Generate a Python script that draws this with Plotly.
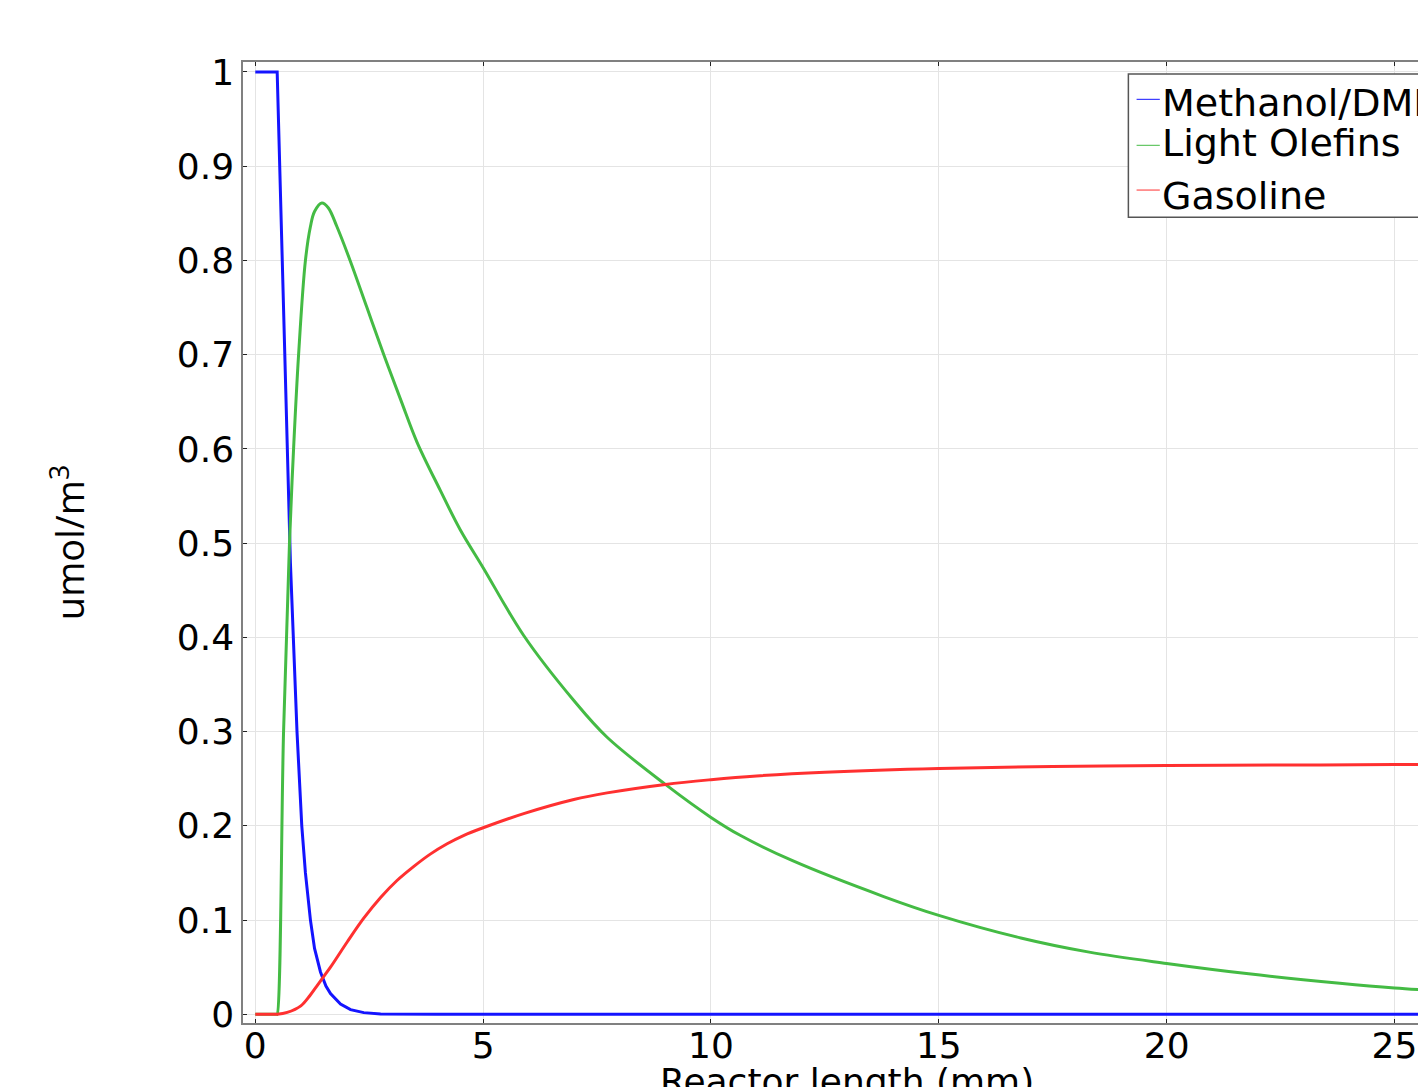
import plotly.graph_objects as go

# ---------------- data ----------------
series_names = ["Methanol/DME", "Light Olefins", "Gasoline"]
series_colors = ["#1414ff", "#44bb44", "#ff3030"]

length_methanol = [0, 0.47, 0.48, 0.77, 0.84, 0.915, 1.02, 1.10, 1.21, 1.30, 1.43, 1.55, 1.65,
                   1.87, 2.09, 2.38, 2.75, 3.2, 4.0, 26.0]
methanol = [1.0, 1.0, 1.0, 0.48, 0.40, 0.30, 0.20, 0.15, 0.10, 0.07, 0.045, 0.030, 0.022,
            0.011, 0.005, 0.0018, 0.0004, 0.0, 0.0, 0.0]

length_olefins = [0, 0.47, 0.48, 0.62, 0.75, 0.84, 0.95, 1.10, 1.21, 1.30, 1.46, 1.60, 1.79,
                  2.08, 2.45, 2.82, 3.20, 3.55, 4.06, 4.50, 5.0, 5.89, 6.99, 7.72, 9.0,
                  10.0, 10.64, 11.79, 13.79, 15.0, 16.8, 18.3, 20.0, 21.8, 23.8, 25.0, 26.0]
olefins = [0.0, 0.0, 0.0, 0.30, 0.50, 0.60, 0.70, 0.80, 0.836, 0.852, 0.861, 0.856, 0.836,
           0.800, 0.750, 0.700, 0.651, 0.607, 0.556, 0.514, 0.474, 0.402, 0.333, 0.294, 0.244,
           0.209, 0.190, 0.163, 0.125, 0.105, 0.081, 0.066, 0.054, 0.043, 0.033, 0.028, 0.025]

length_gasoline = [0, 0.47, 0.48, 0.70, 1.00, 1.20, 1.35, 1.50, 1.65, 2.02, 2.38, 2.75, 3.11,
                   3.48, 3.84, 4.21, 4.58, 5.0, 5.89, 6.99, 7.72, 9.0, 10.0, 11.0, 12.5,
                   15.0, 17.5, 20.0, 22.5, 25.0, 26.0]
gasoline = [0.0, 0.0, 0.0, 0.002, 0.009, 0.020, 0.030, 0.040, 0.050, 0.077, 0.102, 0.124, 0.142,
            0.157, 0.170, 0.181, 0.190, 0.198, 0.213, 0.228, 0.235, 0.244, 0.249, 0.253, 0.257,
            0.261, 0.263, 0.264, 0.2645, 0.265, 0.265]

x_ticks = [0, 5, 10, 15, 20, 25]
y_ticks = [0, 0.1, 0.2, 0.3, 0.4, 0.5, 0.6, 0.7, 0.8, 0.9, 1.0]
y_tick_labels = ["0", "0.1", "0.2", "0.3", "0.4", "0.5", "0.6", "0.7", "0.8", "0.9", "1"]

x_title = "Reactor length (mm)"
y_title = "umol/m<sup>3</sup>"

# ---------------- figure ----------------
xs = [length_methanol, length_olefins, length_gasoline]
ys = [methanol, olefins, gasoline]
shapes_ = ["linear", "spline", "spline"]

fig = go.Figure()
for name, color, x, y, shp in zip(series_names, series_colors, xs, ys, shapes_):
    fig.add_trace(go.Scatter(x=x, y=y, mode="lines", name=name,
                             line=dict(color=color, width=3, shape=shp, smoothing=1.0)))

TICK_FONT = dict(family="DejaVu Sans", size=36, color="black")

# The figure is wider than the window: the right part is cut off, as in the reference.
fig.update_layout(
    width=1460, height=1087,
    margin=dict(l=243, r=9, t=62, b=64, pad=0),
    paper_bgcolor="white", plot_bgcolor="white",
    showlegend=False,
    font=TICK_FONT,
)
fig.update_xaxes(
    range=[-0.27, 26.24], tickvals=x_ticks, tickfont=TICK_FONT,
    showgrid=True, gridcolor="#e4e4e4", gridwidth=1, zeroline=False,
    showline=True, linecolor="#808080", linewidth=1.5, mirror="ticks",
    ticks="inside", ticklen=4, tickwidth=1, tickcolor="#222",
    ticklabelstandoff=-10,
    automargin=False,
)
fig.update_yaxes(
    range=[-0.0092, 1.0106], tickvals=y_ticks, ticktext=y_tick_labels, tickfont=TICK_FONT,
    showgrid=True, gridcolor="#e4e4e4", gridwidth=1, zeroline=False,
    showline=True, linecolor="#808080", linewidth=1.5,
    ticks="inside", ticklen=4, tickwidth=1, tickcolor="#222",
    ticklabelstandoff=0,
    title=dict(text=y_title, font=dict(family="Open Sans", size=38, color="black"),
               standoff=80),
)

# x-axis title: sits partly below the bottom edge of the page, as in the reference
fig.add_annotation(text=x_title, xref="paper", yref="paper", x=0.5, y=0,
                   xanchor="center", yanchor="top", yshift=-36, showarrow=False,
                   font=dict(family="DejaVu Sans", size=36, color="black"))

# legend box (clipped at the right edge like the reference)
fig.add_shape(type="rect", xref="x", yref="y", x0=19.16, x1=30, y0=0.8458, y1=0.9979,
              line=dict(color="#555555", width=1.5), fillcolor="white", layer="above")
legend_line_y = [0.9710, 0.9222, 0.8747]
legend_text_y = [0.9667, 0.9242, 0.8687]
for name, color, ly, ty in zip(series_names, series_colors, legend_line_y, legend_text_y):
    fig.add_shape(type="line", xref="x", yref="y", x0=19.34, x1=19.85, y0=ly, y1=ly,
                  line=dict(color=color, width=1), layer="above")
    fig.add_annotation(text=name, xref="x", yref="y", x=19.86, y=ty,
                       xanchor="left", yanchor="middle", showarrow=False,
                       font=dict(family="DejaVu Sans", size=38, color="black"))

fig.write_html(
    "out.html",
    config={"displayModeBar": False},
    post_script="document.body.style.margin='0';"
                "document.body.style.overflow='hidden';"
                "document.documentElement.style.overflow='hidden';",
)
